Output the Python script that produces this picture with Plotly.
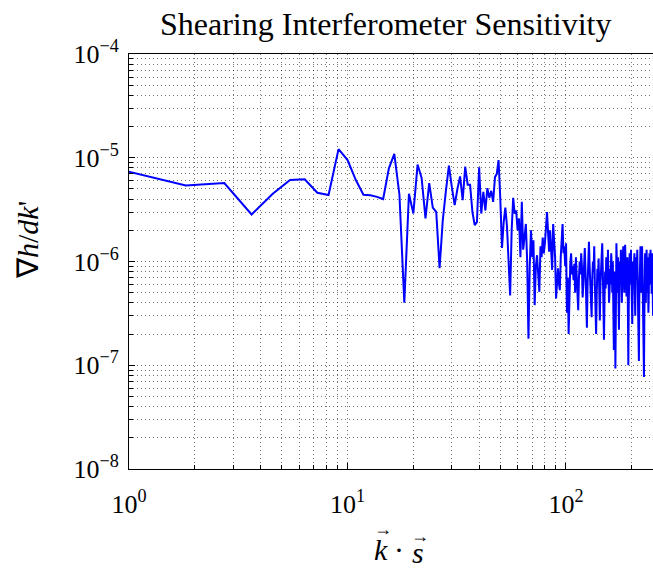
import numpy as np
import plotly.graph_objects as go

# ---- data ----
dk = 0.91                     # spacing of k.s samples
k_index = np.arange(1, 276)   # sample number

# gradient sensitivity, in units of 1e-6
grad_h_e6 = [
    7.7, 5.4, 5.7, 2.84, 4.5, 6.1, 6.2, 4.6, 4.37, 12.1,
    9.5, 6.1, 4.4, 4.35, 4.2, 4.0, 7.9, 10.9, 4.4, 0.40,
    4.5, 2.9, 8.6, 6.4, 2.6, 5.7, 3.3, 3.0, 0.86, 2.5,
    4.8, 8.4, 5.2, 3.5, 5.0, 6.6, 3.9, 8.2, 5.5, 5.5,
    3.0, 2.24, 2.4, 8.1, 2.9, 4.7, 3.1, 5.1, 4.1, 4.8,
    3.76, 6.5, 7.0, 9.5, 4.0, 1.35, 2.4, 3.3, 2.2, 1.0,
    0.47, 2.0, 4.1, 2.9, 3.1, 2.0, 2.6, 1.1, 3.76, 1.3,
    1.8, 2.3, 1.0, 0.18, 0.9, 2.0, 1.1, 1.6, 0.38, 0.9,
    1.15, 0.8, 0.51, 1.4, 1.1, 1.7, 1.2, 1.5, 2.1, 3.0,
    1.9, 1.24, 2.0, 1.3, 0.83, 2.3, 1.6, 1.1, 0.44, 0.7,
    0.86, 0.62, 0.53, 1.1, 1.8, 2.3, 1.2, 1.4, 0.9, 1.5,
    0.32, 0.7, 0.20, 0.55, 0.96, 1.2, 0.75, 0.9, 0.66, 0.95,
    0.5, 1.1, 0.8, 0.6, 0.34, 0.7, 1.0, 0.75, 1.2, 0.9,
    0.45, 0.62, 0.95, 1.35, 0.8, 0.5, 0.23, 0.6, 1.1, 1.55,
    0.9, 0.6, 0.4, 0.29, 0.7, 1.0, 0.8, 1.4, 0.6, 0.35,
    0.20, 0.5, 0.85, 0.65, 1.07, 0.55, 0.27, 0.6, 0.9, 1.2,
    1.5, 0.8, 0.4, 0.176, 0.45, 0.8, 0.55, 1.1, 0.89, 0.6,
    1.3, 0.75, 0.4, 0.53, 0.85, 0.6, 1.2, 0.92, 0.5, 1.0,
    0.35, 0.14, 0.5, 0.8, 0.093, 0.6, 1.5, 0.9, 0.5, 1.1,
    0.45, 0.22, 0.6, 1.0, 0.7, 1.3, 0.66, 0.4, 0.9, 1.2,
    1.4, 0.8, 0.5, 1.0, 1.45, 0.9, 0.6, 0.46, 0.8, 1.1,
    0.35, 0.10, 0.4, 0.7, 1.2, 0.96, 0.6, 1.3, 0.7, 0.45,
    0.25, 0.6, 1.0, 0.7, 0.86, 1.2, 0.5, 0.3, 0.8, 1.1,
    0.66, 0.9, 1.3, 0.6, 0.3, 0.5, 0.11, 0.45, 0.9, 0.7,
    1.4, 0.8, 0.5, 1.0, 1.4, 0.9, 0.4, 0.65, 0.2, 0.077,
    0.3, 0.7, 1.2, 0.6, 0.4, 0.89, 1.3, 0.7, 0.5, 1.1,
    0.6, 0.32, 0.5, 0.8, 1.2, 0.6, 0.96, 1.3, 0.7, 0.9,
    0.49, 0.8, 1.2, 0.6, 0.3,
]

x_tick_vals = [1, 10, 100]
x_tick_text = ["10<sup>0</sup>", "10<sup>1</sup>", "10<sup>2</sup>"]
y_tick_vals = [1e-8, 1e-7, 1e-6, 1e-5, 1e-4]
y_tick_text = ["10<sup>−8</sup>", "10<sup>−7</sup>", "10<sup>−6</sup>",
               "10<sup>−5</sup>", "10<sup>−4</sup>"]

title_text = "Shearing Interferometer Sensitivity"
y_label = "∇<i>h</i>/<i>dk</i>'"

x = k_index * dk
y = np.array(grad_h_e6) * 1e-6

# ---- figure ----
W, H = 653, 571
L, T, B = 129, 54, 571 - 469
FONT = "Liberation Serif, Times New Roman, serif"

fig = go.Figure()
fig.add_trace(go.Scatter(x=x, y=y, mode="lines",
                         line=dict(color="rgb(0,0,255)", width=2),
                         showlegend=False, hoverinfo="skip"))

minor_x = [m * 10 ** d for d in range(0, 3) for m in range(2, 10)]
minor_y = [m * 10.0 ** d for d in range(-8, -4) for m in range(2, 10)]

grid_dash = "1px,3px"
grid_col = "rgba(0,0,0,0.55)"
tfont = dict(family=FONT, size=26, color="black")

fig.update_layout(
    width=W, height=H,
    margin=dict(l=L, r=0, t=T, b=B, autoexpand=False),
    plot_bgcolor="white", paper_bgcolor="white",
    font=dict(family=FONT, color="black", size=26),
    xaxis=dict(
        type="log", range=[0, np.log10(250.2)], automargin=False,
        tickmode="array", tickvals=x_tick_vals, ticktext=x_tick_text,
        ticks="inside", ticklen=6, tickcolor="black", tickwidth=1,
        showline=True, linecolor="black", linewidth=1, mirror=True,
        showgrid=True, gridcolor=grid_col, griddash=grid_dash, gridwidth=1,
        zeroline=False, tickfont=tfont, ticklabelstandoff=12,
        minor=dict(tickmode="array", tickvals=minor_x, ticks="inside",
                   ticklen=4, tickcolor="black", showgrid=True,
                   gridcolor=grid_col, griddash=grid_dash, gridwidth=1),
    ),
    yaxis=dict(
        type="log", range=[-8, -4], automargin=False,
        tickmode="array", tickvals=y_tick_vals, ticktext=y_tick_text,
        ticks="inside", ticklen=6, tickcolor="black", tickwidth=1,
        showline=True, linecolor="black", linewidth=1, mirror=False,
        showgrid=True, gridcolor=grid_col, griddash=grid_dash, gridwidth=1,
        zeroline=False, tickfont=tfont, ticklabelstandoff=4,
        minor=dict(tickmode="array", tickvals=minor_y, ticks="inside",
                   ticklen=4, tickcolor="black", showgrid=True,
                   gridcolor=grid_col, griddash=grid_dash, gridwidth=1),
    ),
)

pw = W - L
ph = H - T - B

def px_x(p):
    return (p - L) / pw

def px_y(p):
    return (H - B - p) / ph

def note(text, xp, yp, size, angle=0):
    fig.add_annotation(text=text, x=px_x(xp), y=px_y(yp),
                       xref="paper", yref="paper", showarrow=False,
                       xanchor="center", yanchor="middle", textangle=angle,
                       font=dict(family=FONT, size=size, color="black"))

note(title_text, 385, 24, 32)
# x label: k-vector dot s-vector (arrows drawn above the letters)
note("<i>k</i>", 381, 549, 30)
note("·", 399, 549, 30)
note("<i>s</i>", 418, 552, 30)
note("→", 383, 529, 18)
note("→", 420, 536, 18)
# y label
note(y_label, 28, 240, 30, angle=-90)

fig.write_html("out.html",
               config={"displayModeBar": False},
               post_script="document.body.style.margin='0px';"
                           "document.body.style.overflow='hidden';")
